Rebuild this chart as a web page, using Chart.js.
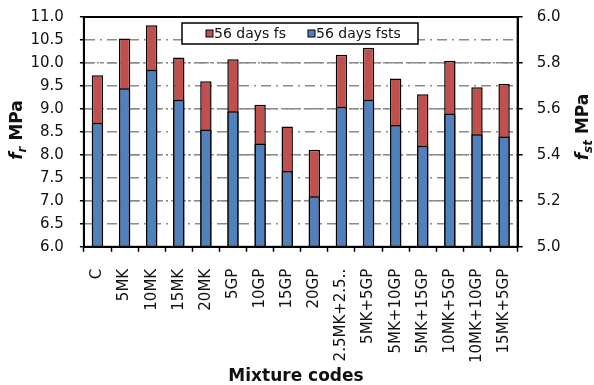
<!DOCTYPE html>
<html>
<head>
<meta charset="utf-8">
<title>56-day strength by mixture</title>
<script src="https://cdn.jsdelivr.net/npm/chart.js@4/dist/chart.umd.min.js"></script>
<style>
  html, body { margin: 0; padding: 0; background: #fff; }
  #c { display: block; }
</style>
</head>
<body>
<canvas id="c" width="594" height="385"></canvas>
<script>
// Mixture codes along the x axis
const categories = ['C', '5MK', '10MK', '15MK', '20MK', '5GP', '10GP', '15GP', '20GP',
  '2.5MK+2.5..', '5MK+5GP', '5MK+10GP', '5MK+15GP', '10MK+5GP', '10MK+10GP', '15MK+5GP'];

// 56-day flexural strength, MPa (left axis)
const fsValues = [9.73, 10.53, 10.82, 10.12, 9.60, 10.08, 9.09, 8.62, 8.11,
  10.18, 10.33, 9.66, 9.32, 10.05, 9.47, 9.55];

// 56-day splitting tensile strength, MPa (right axis)
const fstsValues = [5.54, 5.69, 5.77, 5.64, 5.51, 5.59, 5.45, 5.33, 5.22,
  5.61, 5.64, 5.53, 5.44, 5.58, 5.49, 5.48];

const seriesLabels = ['56 days fs', '56 days fsts'];
const seriesColors = ['#C0504D', '#4F81BD'];

const FONT = "'DejaVu Sans', sans-serif";
// Value-axis labels: small line height keeps the plot top from being pushed down
const Y_TICK_FONT = { family: FONT, size: 15, lineHeight: 0.1 };

// Box around the plot area
const framePlugin = {
  id: 'frame',
  afterDatasetsDraw(chart) {
    const { ctx, chartArea: a } = chart;
    ctx.save();
    ctx.strokeStyle = '#000';
    ctx.lineWidth = 2;
    ctx.strokeRect(a.left, a.top, a.right - a.left, a.bottom - a.top);
    ctx.restore();
  }
};

// Boxed legend inside the plot area
const legendBoxPlugin = {
  id: 'legendBox',
  afterDraw(chart) {
    const { ctx } = chart;
    const x0 = 182, y0 = 23, w = 236, h = 21;
    ctx.save();
    ctx.fillStyle = '#fff';
    ctx.fillRect(x0, y0, w, h);
    ctx.strokeStyle = '#000';
    ctx.lineWidth = 1.5;
    ctx.strokeRect(x0, y0, w, h);
    ctx.font = '14px ' + FONT;
    ctx.textBaseline = 'middle';
    ctx.textAlign = 'left';
    const items = [206, 308];
    chart.data.datasets.forEach((ds, i) => {
      const sx = items[i], cy = y0 + h / 2;
      ctx.fillStyle = ds.backgroundColor;
      ctx.fillRect(sx, cy - 3.5, 7, 7);
      ctx.strokeStyle = '#000';
      ctx.lineWidth = 1;
      ctx.strokeRect(sx, cy - 3.5, 7, 7);
      ctx.fillStyle = '#111';
      ctx.fillText(ds.label, sx + 8, cy + 0.5);
    });
    ctx.restore();
  }
};

// Axis titles with italic symbol and subscript
function drawSymbolTitle(ctx, cx, cy, sub) {
  const big = 'bold italic 17px ' + FONT;
  const small = 'bold italic 12px ' + FONT;
  const plain = 'bold 17px ' + FONT;
  ctx.font = big; const w1 = ctx.measureText('f').width;
  ctx.font = small; const w2 = ctx.measureText(sub).width;
  ctx.font = plain; const w3 = ctx.measureText(' MPa').width;
  const total = w1 + w2 + w3;
  ctx.save();
  ctx.translate(cx, cy);
  ctx.rotate(-Math.PI / 2);
  ctx.fillStyle = '#111';
  ctx.textBaseline = 'alphabetic';
  ctx.textAlign = 'left';
  let x = -total / 2;
  const base = 6;
  ctx.font = big; ctx.fillText('f', x, base); x += w1;
  ctx.font = small; ctx.fillText(sub, x, base + 4); x += w2;
  ctx.font = plain; ctx.fillText(' MPa', x, base);
  ctx.restore();
}

const titlesPlugin = {
  id: 'titles',
  afterDraw(chart) {
    const { ctx } = chart;
    drawSymbolTitle(ctx, 16, 130, 'r');
    drawSymbolTitle(ctx, 582, 127, 'st');
    ctx.save();
    ctx.font = 'bold 17px ' + FONT;
    ctx.fillStyle = '#111';
    ctx.textAlign = 'center';
    ctx.textBaseline = 'middle';
    ctx.fillText('Mixture codes', 296, 377);
    ctx.restore();
  }
};

const barCommon = {
  borderColor: '#000',
  borderWidth: 1.5,
  grouped: false,
  barPercentage: 0.42,
  categoryPercentage: 1
};

new Chart(document.getElementById('c'), {
  type: 'bar',
  data: {
    labels: categories,
    datasets: [
      Object.assign({ label: seriesLabels[0], data: fsValues, backgroundColor: seriesColors[0], yAxisID: 'y', order: 2 }, barCommon),
      Object.assign({ label: seriesLabels[1], data: fstsValues, backgroundColor: seriesColors[1], yAxisID: 'y2', order: 1 }, barCommon)
    ]
  },
  options: {
    responsive: false,
    animation: false,
    devicePixelRatio: 1,
    layout: { padding: { left: 14.5, right: 19.5, top: 17, bottom: 5 } },
    plugins: {
      legend: { display: false },
      tooltip: { enabled: false }
    },
    scales: {
      x: {
        type: 'category',
        offset: true,
        grid: { drawOnChartArea: false, drawTicks: true, tickLength: 5, tickColor: '#000', tickWidth: 1.5, color: '#000' },
        border: { color: '#000', width: 2 },
        ticks: { autoSkip: false, minRotation: 90, maxRotation: 90, padding: 17, color: '#111', font: { family: FONT, size: 15 } }
      },
      y: {
        position: 'left',
        min: 6, max: 11,
        ticks: { stepSize: 0.5, autoSkip: false, padding: 16, color: '#111', font: Y_TICK_FONT, callback: v => Number(v).toFixed(1) },
        grid: { color: '#8a8a8a', lineWidth: 1.5, tickLength: 4, tickColor: '#000', tickWidth: 1.5 },
        border: { color: '#000', width: 2, dash: [10, 5, 2, 5] }
      },
      y2: {
        position: 'right',
        min: 5, max: 6,
        ticks: { stepSize: 0.2, autoSkip: false, padding: 14, color: '#111', font: Y_TICK_FONT, callback: v => Number(v).toFixed(1) },
        grid: { color: '#8a8a8a', lineWidth: 1.5, tickLength: 5, tickColor: '#000', tickWidth: 1.5 },
        border: { color: '#000', width: 2, dash: [10, 3, 2, 3, 2, 3] }
      }
    }
  },
  plugins: [framePlugin, legendBoxPlugin, titlesPlugin]
});
</script>
</body>
</html>
